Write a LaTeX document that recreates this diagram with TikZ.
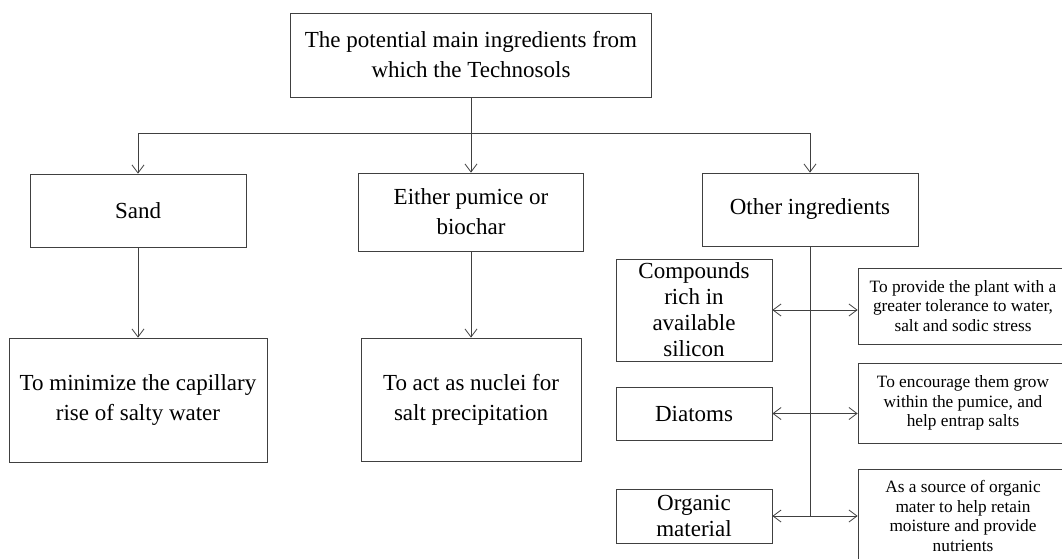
\documentclass[tikz,border=0pt]{standalone}
\usepackage{fontspec}
\setmainfont{Liberation Serif}
\usetikzlibrary{arrows.meta,positioning,calc}

\begin{document}
\begin{tikzpicture}[x=1pt,y=-1pt,
		box/.style={draw=black!75,line width=0.8pt,rectangle,align=center,inner sep=0pt,
			font=\fontsize{23}{30}\selectfont},
		smallbox/.style={box,font=\fontsize{17.3}{19.6}\selectfont},
		link/.style={draw=black!75,line width=0.8pt},
		arr/.style={link,-{Straight Barb[length=8pt,width=12pt]}},
		dblarr/.style={link,{Straight Barb[length=8pt,width=12pt]}-{Straight Barb[length=8pt,width=12pt]}}]
		\useasboundingbox (0,0) rectangle (1062,559);
		% main headings
		\node[box,minimum width=361,minimum height=84] (top) at (471,55) {The potential main ingredients from\\which the Technosols};
		\node[box,minimum width=216,minimum height=73] (sand) at (138,210.5) {Sand};
		\node[box,minimum width=225,minimum height=78] (pumice) at (471,212) {Either pumice or\\biochar};
		\node[box,minimum width=216,minimum height=73] (other) at (810,209.5) {Other ingredients};
		% roles
		\node[box,minimum width=258,minimum height=124] (minimize) at (138,400) {To minimize the capillary\\rise of salty water};
		\node[box,minimum width=220,minimum height=123] (nuclei) at (471,399.5) {To act as nuclei for\\salt precipitation};
		% other ingredients
		\node[box,minimum width=156,minimum height=102,font=\fontsize{23}{26}\selectfont] (silicon) at (694,310) {Compounds\\rich in\\available\\silicon};
		\node[box,minimum width=156,minimum height=53] (diatoms) at (694,413.5) {Diatoms};
		\node[box,minimum width=156,minimum height=54,font=\fontsize{23}{26}\selectfont] (organic) at (694,516) {Organic\\material};
		\node[smallbox,minimum width=210,minimum height=76] (tolerance) at (963,306) {To provide the plant with a\\greater tolerance to water,\\salt and sodic stress};
		\node[smallbox,minimum width=210,minimum height=80] (entrap) at (963,403) {To encourage them grow\\within the pumice, and\\help entrap salts};
		\node[smallbox,minimum width=210,minimum height=94] (moisture) at (963,516) {As a source of organic\\mater to help retain\\moisture and provide\\nutrients};
		
		\coordinate (split) at (471,133);
		\coordinate (splitL) at (138,133);
		\coordinate (splitR) at (810,133);
		\coordinate (trunk) at (other.south |- organic.east);
		
		\draw[link] (top.south) -- (split);
		\draw[link] (splitL) -- (splitR);
		\foreach \f/\t in {splitL/sand,split/pumice,splitR/other,sand/minimize,pumice/nuclei}{
			\draw[arr] (\f |- \f.south) -- (\t);
		}
		\draw[link] (other.south) -- (trunk);
		\foreach \f/\t in {silicon/tolerance,diatoms/entrap,organic/moisture}{
			\draw[dblarr] (\f.east) -- (\f.east -| \t.west);
		}
	\end{tikzpicture}
\end{document}
